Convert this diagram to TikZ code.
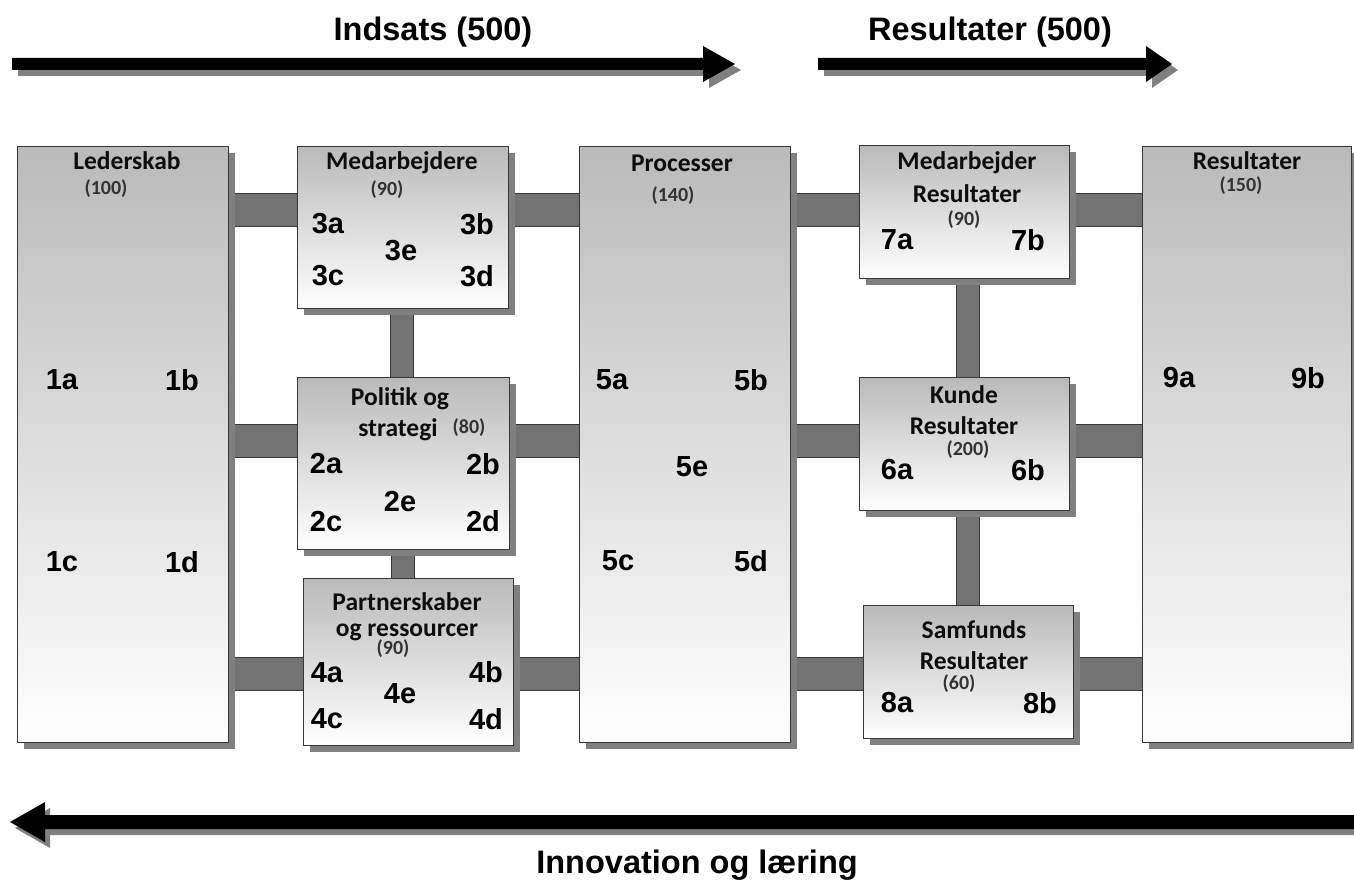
\documentclass[tikz,border=0pt]{standalone}
\usepackage{fontspec}
\setmainfont{Liberation Sans}
\newfontfamily\titlefont{Carlito}
\usetikzlibrary{shadows,backgrounds}

\definecolor{boxtop}{RGB}{186,186,186}
\definecolor{shadowgray}{RGB}{128,128,128}
\definecolor{barfill}{RGB}{115,115,115}
\definecolor{edge}{RGB}{55,55,55}

\tikzset{
  box/.style={draw=edge, line width=1.3pt, top color=boxtop, bottom color=white,
    anchor=north west, inner sep=0pt,
    drop shadow={shadow xshift=6pt, shadow yshift=-6pt, fill=shadowgray, opacity=1}},
  hbar/.style={draw=edge, line width=1.1pt, double=barfill, double distance=32pt},
  vbar/.style={draw=edge, line width=1.1pt, double=barfill, double distance=22pt},
  num/.style={inner sep=0pt, font=\bfseries\fontsize{29}{29}\selectfont},
  title/.style={inner sep=0pt, text=black!95, font=\titlefont\bfseries\fontsize{25.5}{25.5}\selectfont},
  pts/.style={inner sep=0pt, text=black!80, font=\titlefont\bfseries\fontsize{20}{20}\selectfont},
  biglabel/.style={inner sep=0pt, font=\bfseries\fontsize{32.5}{32.5}\selectfont},
  bigarrow/.style={fill=black},
  arrowshadow/.style={fill=shadowgray}
}

\begin{document}
\begin{tikzpicture}[x=1pt, y=-1pt]
\useasboundingbox (0,0) rectangle (1354,882);

% heights of the horizontal connecting bars
\coordinate (row1) at (0,210);
\coordinate (row2) at (0,441);
\coordinate (row3) at (0,674);

% ---- top arrows ----
\fill[arrowshadow, shift={(6,6)}] (12,58) -- (703,58) -- (703,46) -- (735,64) -- (703,82) -- (703,70) -- (12,70) -- cycle;
\fill[bigarrow] (12,58) -- (703,58) -- (703,46) -- (735,64) -- (703,82) -- (703,70) -- (12,70) -- cycle;
\node[biglabel] (indsats) at (433,32) {Indsats (500)};

\fill[arrowshadow, shift={(6,6)}] (818,58) -- (1146,58) -- (1146,46) -- (1172,64) -- (1146,82) -- (1146,70) -- (818,70) -- cycle;
\fill[bigarrow] (818,58) -- (1146,58) -- (1146,46) -- (1172,64) -- (1146,82) -- (1146,70) -- (818,70) -- cycle;
\node[biglabel] (resultat) at (990,32) {Resultater (500)};

% ---- bottom arrow ----
\fill[arrowshadow, shift={(5,6)}] (1370,815) -- (45,815) -- (45,802) -- (10,822) -- (45,842) -- (45,829) -- (1370,829) -- cycle;
\fill[bigarrow] (1370,815) -- (45,815) -- (45,802) -- (10,822) -- (45,842) -- (45,829) -- (1370,829) -- cycle;
\node[biglabel] (innov) at (697,865) {Innovation og læring};

% ---- boxes ----
\node[box, minimum width=211pt, minimum height=596pt] (led)  at (17,146) {};
\node[box, minimum width=211pt, minimum height=162pt] (med)  at (297,146) {};
\node[box, minimum width=212pt, minimum height=172pt] (pol)  at (297,377) {};
\node[box, minimum width=210pt, minimum height=167pt] (part) at (303,578) {};
\node[box, minimum width=211pt, minimum height=596pt] (proc) at (579,146) {};
\node[box, minimum width=210pt, minimum height=133pt] (mres) at (859,145) {};
\node[box, minimum width=210pt, minimum height=133pt] (kres) at (859,377) {};
\node[box, minimum width=210pt, minimum height=133pt] (sres) at (863,605) {};
\node[box, minimum width=209pt, minimum height=596pt] (res)  at (1142,146) {};

% ---- connecting bars, behind the boxes ----
\begin{scope}[on background layer]
  \draw[hbar] (led |- row1) -- (med |- row1);
  \draw[hbar] (med |- row1) -- (proc |- row1);
  \draw[hbar] (proc |- row1) -- (mres |- row1);
  \draw[hbar] (mres |- row1) -- (res |- row1);
  \draw[hbar] (led |- row2) -- (pol |- row2);
  \draw[hbar] (pol |- row2) -- (proc |- row2);
  \draw[hbar] (proc |- row2) -- (kres |- row2);
  \draw[hbar] (kres |- row2) -- (res |- row2);
  \draw[hbar] (led |- row3) -- (part |- row3);
  \draw[hbar] (part |- row3) -- (proc |- row3);
  \draw[hbar] (proc |- row3) -- (sres |- row3);
  \draw[hbar] (sres |- row3) -- (res |- row3);
  \draw[vbar] ([xshift=-1pt]med.center) -- ([xshift=-1pt]med.center |- pol.center);
  \draw[vbar] ([xshift=-1pt]pol.center) -- ([xshift=-1pt]pol.center |- part.center);
  \draw[vbar] ([xshift=3pt]mres.center) -- ([xshift=3pt]mres.center |- kres.center);
  \draw[vbar] ([xshift=3pt]kres.center) -- ([xshift=3pt]kres.center |- sres.center);
\end{scope}

% ---- Lederskab ----
\node[title] (ledT) at (127,161) {Lederskab};
\node[pts] (ledP) at (106,189) {(100)};
\node[num] (n1a) at (62,380) {1a};
\node[num] (n1b) at (182,380) {1b};
\node[num] (n1c) at (62,562) {1c};
\node[num] (n1d) at (182,562) {1d};

% ---- Medarbejdere ----
\node[title] (medT) at (402,163) {Medarbejdere};
\node[pts] (medP) at (387,190) {(90)};
\node[num] (n3a) at (328,224) {3a};
\node[num] (n3b) at (477,224) {3b};
\node[num] (n3e) at (401,251) {3e};
\node[num] (n3c) at (328,276) {3c};
\node[num] (n3d) at (477,276) {3d};

% ---- Politik og strategi ----
\node[title] (polT1) at (400,399) {Politik og};
\node[title] (polT2) at (398,430) {strategi};
\node[pts] (polP) at (469,428) {(80)};
\node[num] (n2a) at (326,464) {2a};
\node[num] (n2b) at (483,464) {2b};
\node[num] (n2e) at (400,502) {2e};
\node[num] (n2c) at (326,522) {2c};
\node[num] (n2d) at (483,521) {2d};

% ---- Partnerskaber og ressourcer ----
\node[title] (partT1) at (407,602) {Partnerskaber};
\node[title] (partT2) at (407,632) {og ressourcer};
\node[pts] (partP) at (393,649) {(90)};
\node[num] (n4a) at (327,673) {4a};
\node[num] (n4b) at (486,672) {4b};
\node[num] (n4e) at (400,694) {4e};
\node[num] (n4c) at (327,719) {4c};
\node[num] (n4d) at (486,719) {4d};

% ---- Processer ----
\node[title] (procT) at (682,163) {Processer};
\node[pts] (procP) at (673,196) {(140)};
\node[num] (n5a) at (612,380) {5a};
\node[num] (n5b) at (751,380) {5b};
\node[num] (n5e) at (692,467) {5e};
\node[num] (n5c) at (618,561) {5c};
\node[num] (n5d) at (751,561) {5d};

% ---- Medarbejder Resultater ----
\node[title] (mresT1) at (967,163) {Medarbejder};
\node[title] (mresT2) at (967,194) {Resultater};
\node[pts] (mresP) at (964,220) {(90)};
\node[num] (n7a) at (897,240) {7a};
\node[num] (n7b) at (1028,240) {7b};

% ---- Kunde Resultater ----
\node[title] (kresT1) at (964,395) {Kunde};
\node[title] (kresT2) at (964,426) {Resultater};
\node[pts] (kresP) at (968,450) {(200)};
\node[num] (n6a) at (897,470) {6a};
\node[num] (n6b) at (1028,470) {6b};

% ---- Samfunds Resultater ----
\node[title] (sresT1) at (974,630) {Samfunds};
\node[title] (sresT2) at (974,661) {Resultater};
\node[pts] (sresP) at (959,684) {(60)};
\node[num] (n8a) at (897,703) {8a};
\node[num] (n8b) at (1040,703) {8b};

% ---- Resultater ----
\node[title] (resT) at (1247,161) {Resultater};
\node[pts] (resP) at (1241,186) {(150)};
\node[num] (n9a) at (1179,378) {9a};
\node[num] (n9b) at (1308,378) {9b};
\end{tikzpicture}
\end{document}
